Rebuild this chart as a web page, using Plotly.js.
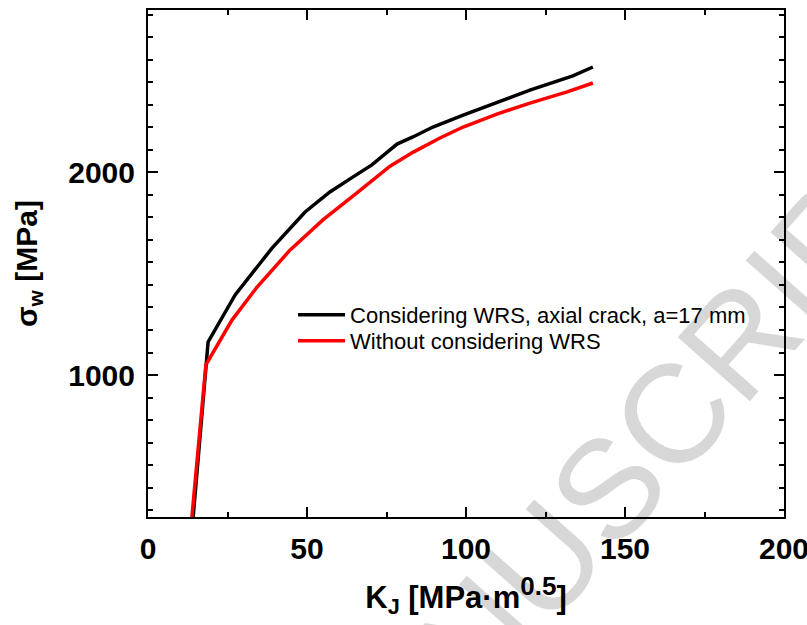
<!DOCTYPE html>
<html>
<head>
<meta charset="utf-8">
<script src="https://cdn.plot.ly/plotly-3.0.1.min.js"></script>
<style>html,body{margin:0;padding:0;background:#fff;}#chart{width:807px;height:625px;}</style>
</head>
<body>
<div id="chart"></div>
<script>
// Series: K_J [MPa·m^0.5] vs sigma_w [MPa]
var kjWRS = [14.2, 18.3, 18.9, 27.4, 39.0, 49.4, 57.2, 64.5, 70.4, 76.1, 78.3, 83.3, 89.6, 99.1, 109.7, 120.1, 133.6, 139.9];
var sigWRS = [300, 1050, 1163, 1395, 1626, 1804, 1903, 1977, 2036, 2110, 2139, 2174, 2223, 2282, 2346, 2405, 2475, 2519];

var kjNo = [13.8, 18.2, 26.4, 34.3, 44.7, 55.0, 65.7, 76.1, 83.3, 91.8, 99.1, 109.7, 120.1, 131.8, 139.9];
var sigNo = [300, 1050, 1271, 1434, 1617, 1765, 1898, 2030, 2098, 2169, 2223, 2287, 2341, 2396, 2440];

var seriesNames = ["Considering WRS, axial crack, a=17 mm", "Without considering WRS"];
var xTickVals = [0, 50, 100, 150, 200];
var yTickVals = [1000, 2000];
var watermarkText = "ACCEPTED MANUSCRIPT";

var FONT = "Arial, 'Liberation Sans', Helvetica, sans-serif";

var traces = [
  {x: kjWRS, y: sigWRS, mode: "lines", name: seriesNames[0], legend: "legend",
   line: {color: "#000000", width: 3.5}},
  {x: kjNo, y: sigNo, mode: "lines", name: seriesNames[1], legend: "legend2",
   line: {color: "#ff0000", width: 3.5}}
];

var axisCommon = {
  showgrid: false, zeroline: false, showline: true, mirror: "ticks",
  linecolor: "#000", linewidth: 2, ticks: "inside", ticklen: 10, tickwidth: 2,
  tickcolor: "#000", ticklabeloverflow: "allow",
  tickfont: {family: FONT, size: 30, color: "#000", weight: "bold"}
};

var legendCommon = {xanchor: "left", yanchor: "top", bgcolor: "rgba(0,0,0,0)",
  itemwidth: 47, font: {family: FONT, size: 22, color: "#000"}};

var layout = {
  width: 807, height: 625,
  margin: {l: 148, r: 23, t: 10, b: 108},
  paper_bgcolor: "#fff", plot_bgcolor: "#fff",
  showlegend: true,
  legend: Object.assign({}, legendCommon, {x: 0.228, y: 0.44}),
  legend2: Object.assign({}, legendCommon, {x: 0.228, y: 0.3887}),
  xaxis: Object.assign({}, axisCommon, {
    range: [0, 200], tickvals: xTickVals, ticktext: xTickVals.map(String),
    ticklabelstandoff: 4,
    minor: {dtick: 25, tick0: 0, ticks: "inside", ticklen: 5, tickwidth: 2, tickcolor: "#000"},
    title: {text: "K<sub>J</sub> [MPa·m<sup><span style='font-size:26px'>0.5</span></sup>]", standoff: 22,
      font: {family: FONT, size: 31, color: "#000", weight: "bold"}}
  }),
  yaxis: Object.assign({}, axisCommon, {
    range: [300, 2800], tickvals: yTickVals, ticktext: yTickVals.map(String),
    ticklabelstandoff: 5,
    minor: {dtick: 1000 / 9, tick0: 0, ticks: "inside", ticklen: 5, tickwidth: 2, tickcolor: "#000"},
    title: {text: "σ<sub>w</sub> [MPa]", standoff: 22,
      font: {family: FONT, size: 30, color: "#000", weight: "bold"}}
  }),
  annotations: [{
    text: watermarkText, xref: "paper", yref: "paper", x: 0.31, y: -0.53,
    xanchor: "center", yanchor: "middle",
    showarrow: false, textangle: -48.5,
    font: {family: FONT, size: 140, color: "rgba(0,0,0,0.155)"}
  }]
};

Plotly.newPlot("chart", traces, layout, {displayModeBar: false, staticPlot: true});
</script>
</body>
</html>
